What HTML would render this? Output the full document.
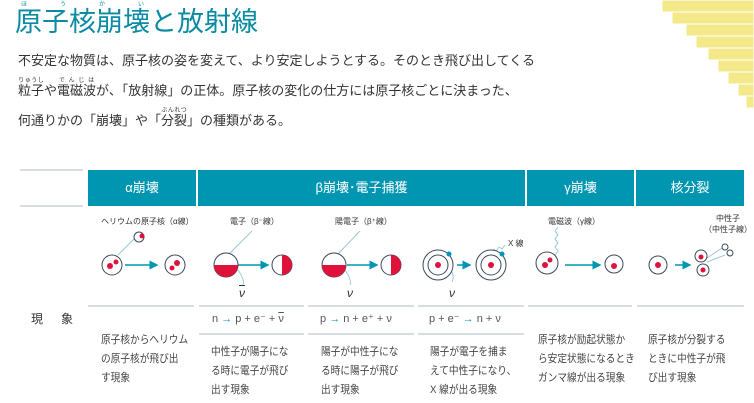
<!DOCTYPE html>
<html><head><meta charset="utf-8"><style>
body{margin:0;width:754px;height:403px;background:#fff;position:relative;overflow:hidden;font-family:"Liberation Sans","Noto Sans CJK JP",sans-serif;color:#333}
.a{position:absolute;white-space:nowrap}
.h{position:absolute;top:170px;height:36px;background:#0096b1;color:#fff;font-size:13px;line-height:36px;text-align:center}
.t{font-size:11px;line-height:19px;color:#444;transform:scaleX(0.88);transform-origin:0 0}
.ln{position:absolute;height:2px;background:#d8dde0}
rt{font-size:6px}
</style></head><body>
<div class="a" style="left:15px;top:2px;font-size:27px;color:#0a8aa3;line-height:36px"><ruby>原子核崩壊<rt>ほうかい</rt></ruby>と放射線</div>
<div class="a" style="left:18px;top:46px;font-size:13px;line-height:30px;color:#333">不安定な物質は、原子核の姿を変えて、より安定しようとする。そのとき飛び出してくる<br><ruby>粒子<rt>りゅうし</rt></ruby>や<ruby>電磁波<rt>でんじは</rt></ruby>が、「放射線」の正体。原子核の変化の仕方には原子核ごとに決まった、<br>何通りかの「崩壊」や「<ruby>分裂<rt>ぶんれつ</rt></ruby>」の種類がある。</div>
<svg class="a" style="left:650px;top:0" width="104" height="125">
<g fill="#f3e98a" stroke="#fff" stroke-width="1">
<rect x="12" y="0" width="92" height="12"/><rect x="22" y="12" width="82" height="12"/><rect x="36" y="24" width="68" height="12"/><rect x="46" y="36" width="58" height="12"/><rect x="58" y="48" width="46" height="12"/><rect x="68" y="60" width="36" height="12"/><rect x="78" y="72" width="26" height="12"/><rect x="88" y="84" width="16" height="12"/><rect x="96" y="96" width="8" height="12"/>
</g></svg>
<div class="ln" style="left:20px;top:169px;width:63px"></div>
<div class="ln" style="left:20px;top:205px;width:63px"></div>
<div class="h" style="left:88px;width:108px">α崩壊</div>
<div class="h" style="left:198px;width:327px">β崩壊･電子捕獲</div>
<div class="h" style="left:527px;width:107px">γ崩壊</div>
<div class="h" style="left:636px;width:108px">核分裂</div>
<div class="a" style="left:31px;top:310px;font-size:12px;letter-spacing:18px">現象</div>
<div class="ln" style="left:88px;top:305px;width:106px"></div>
<div class="ln" style="left:199px;top:305px;width:105px"></div>
<div class="ln" style="left:308px;top:305px;width:106px"></div>
<div class="ln" style="left:418px;top:305px;width:106px"></div>
<div class="ln" style="left:528px;top:305px;width:104px"></div>
<div class="ln" style="left:637px;top:305px;width:107px"></div>
<div class="ln" style="left:199px;top:333px;width:105px"></div>
<div class="ln" style="left:308px;top:333px;width:106px"></div>
<div class="ln" style="left:418px;top:333px;width:106px"></div>
<div class="a" style="left:212px;top:312px;font-size:11px;color:#555">n <span style="color:#0096b1">→</span> p + e⁻ + <span style="text-decoration:overline">ν</span></div>
<div class="a" style="left:320px;top:312px;font-size:11px;color:#555">p <span style="color:#0096b1">→</span> n + e⁺ + ν</div>
<div class="a" style="left:429px;top:312px;font-size:11px;color:#555">p + e⁻ <span style="color:#0096b1">→</span> n + ν</div>
<div class="a t" style="left:101px;top:331px">原子核からヘリウム<br>の原子核が飛び出<br>す現象</div>
<div class="a t" style="left:211px;top:343px">中性子が陽子にな<br>る時に電子が飛び<br>出す現象</div>
<div class="a t" style="left:321px;top:343px">陽子が中性子にな<br>る時に陽子が飛び<br>出す現象</div>
<div class="a t" style="left:430px;top:343px">陽子が電子を捕ま<br>えて中性子になり、<br>X 線が出る現象</div>
<div class="a t" style="left:538px;top:331px">原子核が励起状態か<br>ら安定状態になるとき<br>ガンマ線が出る現象</div>
<div class="a t" style="left:648px;top:331px">原子核が分裂する<br>ときに中性子が飛<br>び出す現象</div>
<div class="a" style="left:101px;top:216px;font-size:8px">ヘリウムの原子核（α線）</div>
<div class="a" style="left:230px;top:216px;font-size:8px">電子（β⁻線）</div>
<div class="a" style="left:335px;top:216px;font-size:8px">陽電子（β⁺線）</div>
<div class="a" style="left:548px;top:216px;font-size:8px">電磁波（γ線）</div>
<div class="a" style="left:704px;top:213px;font-size:8px;line-height:11px;text-align:center">中性子<br>（中性子線）</div>
<div class="a" style="left:508px;top:238px;font-size:8px">X 線</div>
<svg class="a" style="left:0;top:0" width="754" height="403">
<defs><marker id="m" markerWidth="6" markerHeight="6" refX="5" refY="3" orient="auto"><path d="M0,0L6,3L0,6z" fill="#0096b1"/></marker></defs>
<g stroke="#0096b1" stroke-width="1.5" marker-end="url(#m)">
<line x1="125" y1="265" x2="157" y2="265"/><line x1="238" y1="265" x2="268" y2="265"/><line x1="347" y1="265" x2="377" y2="265"/><line x1="457" y1="265" x2="470" y2="265"/><line x1="565" y1="265" x2="600" y2="265"/><line x1="675" y1="265" x2="690" y2="265"/>
</g>
<g stroke="#9cc9d4" fill="none" stroke-width="1">
<line x1="118" y1="255" x2="135" y2="238"/><line x1="228" y1="255" x2="252" y2="231"/><line x1="337" y1="255" x2="360" y2="231"/>
<path d="M238 270 Q245 280 243 285"/><path d="M345 270 Q352 280 350 285"/><path d="M450 270 Q455 275 452 282"/>
<path d="M555 255 l3 -4 l-3 -4 l3 -4 l-3 -4 l3 -4 l-3 -4 l3 -4"/>
<path d="M505 245 l-3 4 l-3 -2 l-3 4 l-3 -2"/>
<line x1="707" y1="258" x2="722" y2="248"/><line x1="707" y1="262" x2="725" y2="255"/>
</g>
<g stroke="#3a4a5a" fill="#fff" stroke-width="1">
<circle cx="112" cy="265" r="10"/><circle cx="175" cy="265" r="10"/><circle cx="139" cy="237" r="5"/>
<circle cx="226" cy="265" r="12"/><circle cx="282" cy="265" r="10"/><circle cx="334" cy="265" r="12"/><circle cx="391" cy="265" r="10"/>
<circle cx="438" cy="265" r="15"/><circle cx="438" cy="265" r="10"/><circle cx="491" cy="265" r="15"/><circle cx="491" cy="265" r="10"/>
<circle cx="547" cy="263" r="11"/><circle cx="614" cy="264" r="9"/><circle cx="658" cy="265" r="9"/><circle cx="701" cy="256" r="6"/><circle cx="703" cy="270" r="6"/><circle cx="725" cy="247" r="3"/><circle cx="730" cy="253" r="3"/>
</g>
<g fill="#e0123a">
<circle cx="110" cy="266" r="3"/><circle cx="116" cy="262" r="2.5"/><circle cx="177" cy="263" r="3"/><circle cx="172" cy="268" r="2.5"/><circle cx="142" cy="236" r="2.5"/>
<path d="M214 265 a12 12 0 0 0 24 0z"/><path d="M282 255 a10 10 0 0 1 0 20z"/><path d="M322 265 a12 12 0 0 0 24 0z"/><path d="M391 255 a10 10 0 0 1 0 20z"/>
<circle cx="438" cy="265" r="3"/><circle cx="491" cy="265" r="3"/><circle cx="545" cy="265" r="3"/><circle cx="550" cy="260" r="2.5"/><circle cx="614" cy="266" r="3"/><circle cx="658" cy="265" r="3"/><circle cx="701" cy="257" r="2.5"/><circle cx="703" cy="270" r="2.5"/>
</g>
<g fill="#0096b1"><circle cx="449" cy="254" r="2.5"/><circle cx="502" cy="254" r="2.5"/></g>
</svg>
<div class="a" style="left:239px;top:286px;font-size:12px;font-style:italic;text-decoration:overline">ν</div>
<div class="a" style="left:347px;top:286px;font-size:12px;font-style:italic">ν</div>
<div class="a" style="left:449px;top:286px;font-size:12px;font-style:italic">ν</div>
</body></html>
